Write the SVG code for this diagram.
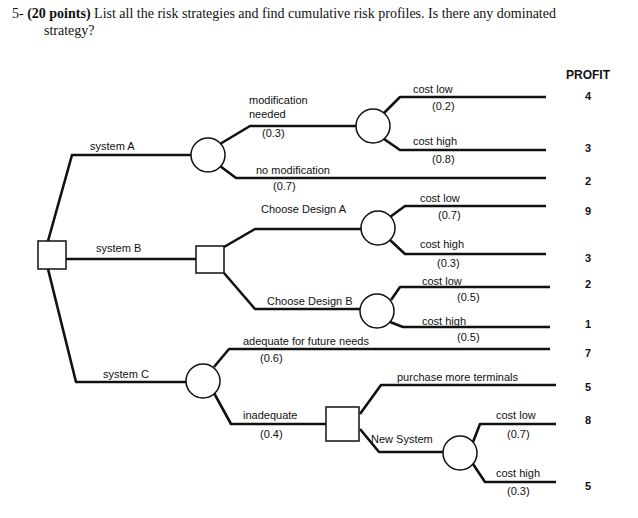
<svg xmlns="http://www.w3.org/2000/svg" width="638" height="518" viewBox="0 0 638 518">
<style>
.l{fill:none;stroke:#111;stroke-width:2.6;stroke-linejoin:round}
.n{fill:#fff;stroke:#111;stroke-width:1.5}
text{font-family:"Liberation Sans",Arial,sans-serif;font-size:11px;fill:#111}
.t{font-family:"Liberation Serif","Times New Roman",serif;font-size:14px}
.p{font-weight:bold;font-size:12px}
#profits text{font-weight:bold}
</style>
<rect width="638" height="518" fill="#fff"/>
<text class="t" x="12" y="18">5-  <tspan font-weight="bold">(20 points)</tspan> List all the risk strategies and find cumulative risk profiles. Is there any dominated</text>
<text class="t" x="44" y="35">strategy?</text>
<g id="connectors">
<path class="l" d="M48,241 L72,155 L191,155"/>
<path class="l" d="M220,144 L250,126 L356,126"/>
<path class="l" d="M384,113 L400,97 L546,97"/>
<path class="l" d="M384,139 L400,150 L546,150"/>
<path class="l" d="M220,166 L236,178 L546,178"/>
<path class="l" d="M66,259 L196,259"/>
<path class="l" d="M224,247 L255,229 L361,229"/>
<path class="l" d="M390,217 L405,206 L546,206"/>
<path class="l" d="M390,240 L405,254 L546,254"/>
<path class="l" d="M224,273 L255,309 L360,309"/>
<path class="l" d="M391,300 L400,287 L550,287"/>
<path class="l" d="M390,322 L403,327 L550,327"/>
<path class="l" d="M48,269 L76,382 L186,382"/>
<path class="l" d="M214,367 L229,349 L550,349"/>
<path class="l" d="M214,393 L231,424 L326,424"/>
<path class="l" d="M360,414 L381,385 L556,385"/>
<path class="l" d="M360,429 L379,452 L443,452"/>
<path class="l" d="M473,442 L480,424 L556,424"/>
<path class="l" d="M473,464 L485,482 L556,482"/>
</g>
<g id="root"><rect class="n" x="38" y="241" width="28" height="28"/></g>
<g id="chanceA"><circle class="n" cx="208" cy="155" r="17"/></g>
<g id="chanceA1"><circle class="n" cx="373" cy="126" r="17"/></g>
<g id="decisionB"><rect class="n" x="196" y="246" width="28" height="27"/></g>
<g id="chanceBA"><circle class="n" cx="378" cy="228" r="17"/></g>
<g id="chanceBB"><circle class="n" cx="377" cy="311" r="17"/></g>
<g id="chanceC"><circle class="n" cx="203" cy="381" r="17"/></g>
<g id="decisionC"><rect class="n" x="326" y="407" width="33" height="34"/></g>
<g id="chanceNew"><circle class="n" cx="460" cy="453" r="17"/></g>
<g id="labels">
<text x="249" y="104">modification</text><text x="249" y="118">needed</text>
<text x="262" y="137">(0.3)</text>
<text x="90" y="150">system A</text>
<text x="256" y="174">no modification</text><text x="273" y="190">(0.7)</text>
<text x="261" y="213">Choose Design A</text>
<text x="413" y="93">cost low</text><text x="432" y="110">(0.2)</text>
<text x="413" y="145">cost high</text><text x="432" y="163">(0.8)</text>
<text x="420" y="202">cost low</text><text x="438" y="219">(0.7)</text>
<text x="420" y="248">cost high</text><text x="437" y="267">(0.3)</text>
<text x="422" y="285">cost low</text><text x="457" y="301">(0.5)</text>
<text x="422" y="325">cost high</text><text x="457" y="341">(0.5)</text>
<text x="96" y="252">system B</text>
<text x="267" y="305">Choose Design B</text>
<text x="243" y="345">adequate for future needs</text><text x="260" y="362">(0.6)</text>
<text x="103" y="378">system C</text>
<text x="397" y="381">purchase more terminals</text>
<text x="243" y="419">inadequate</text><text x="260" y="438">(0.4)</text>
<text x="371" y="443">New System</text>
<text x="496" y="419">cost low</text><text x="507" y="438">(0.7)</text>
<text x="496" y="477">cost high</text><text x="507" y="495">(0.3)</text>
</g>
<g id="profits" text-anchor="middle">
<text class="p" x="588" y="79">PROFIT</text>
<text x="588" y="100">4</text><text x="588" y="152">3</text><text x="588" y="185">2</text>
<text x="588" y="215">9</text><text x="588" y="262">3</text><text x="588" y="288">2</text>
<text x="588" y="328">1</text><text x="588" y="357">7</text><text x="588" y="391">5</text>
<text x="588" y="424">8</text><text x="588" y="490">5</text>
</g>
</svg>
